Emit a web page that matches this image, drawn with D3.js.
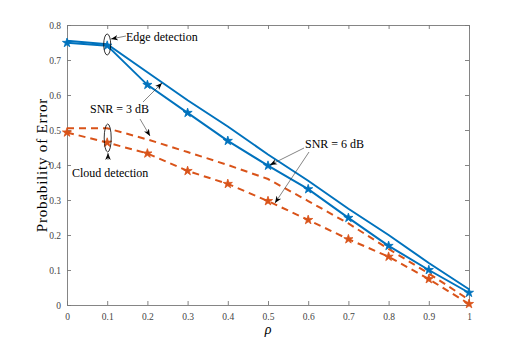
<!DOCTYPE html>
<html>
<head>
<meta charset="utf-8">
<script src="https://cdn.jsdelivr.net/npm/d3@7"></script>
<style>
  html, body { margin: 0; padding: 0; background: #fff; }
  svg { display: block; }
  svg text { font-family: "Liberation Serif", "DejaVu Serif", serif; }
</style>
</head>
<body>
<svg id="chart" width="518" height="343"></svg>
<script>
// Daten
const rho = [0, 0.1, 0.2, 0.3, 0.4, 0.5, 0.6, 0.7, 0.8, 0.9, 1];
const edge3dB = [0.755, 0.745, 0.665, 0.585, 0.51, 0.43, 0.355, 0.275, 0.2, 0.12, 0.045];
const edge6dB = [0.749, 0.741, 0.629, 0.549, 0.469, 0.398, 0.331, 0.249, 0.169, 0.1, 0.035];
const cloud3dB = [0.505, 0.505, 0.473, 0.437, 0.4, 0.36, 0.297, 0.233, 0.16, 0.09, 0.015];
const cloud6dB = [0.493, 0.464, 0.433, 0.383, 0.346, 0.297, 0.243, 0.188, 0.138, 0.074, 0.003];
const xTicks = [0, 0.1, 0.2, 0.3, 0.4, 0.5, 0.6, 0.7, 0.8, 0.9, 1];
const yTicks = [0, 0.1, 0.2, 0.3, 0.4, 0.5, 0.6, 0.7, 0.8];

const blue = "#0072BD";
const orange = "#D95319";
const axisColor = "#777";
const serif = "'Liberation Serif', 'DejaVu Serif', serif";

const svg = d3.select("#chart");
const x = d3.scaleLinear().domain([0, 1]).range([67, 469]);
const y = d3.scaleLinear().domain([0, 0.8]).range([305, 25]);

// Pfeilmarker
svg.append("defs").append("marker")
    .attr("id", "arrow")
    .attr("viewBox", "0 -5 10 10")
    .attr("refX", 10)
    .attr("refY", 0)
    .attr("markerWidth", 7)
    .attr("markerHeight", 7)
    .attr("markerUnits", "userSpaceOnUse")
    .attr("orient", "auto")
    .append("path")
    .attr("d", "M0,-4L10,0L0,4L3,0Z")
    .attr("fill", "#000");

// Achsen
const fmt = d => d === 0 ? "0" : d === 1 ? "1" : d3.format(".1f")(d);
const axB = svg.append("g").attr("transform", `translate(0,${y(0)})`)
    .call(d3.axisBottom(x).tickValues(xTicks).tickFormat(fmt).tickSizeInner(-4).tickSizeOuter(0).tickPadding(8));
const axL = svg.append("g").attr("transform", `translate(${x(0)},0)`)
    .call(d3.axisLeft(y).tickValues(yTicks).tickFormat(fmt).tickSizeInner(-4).tickSizeOuter(0).tickPadding(6));
const axT = svg.append("g").attr("transform", `translate(0,${y(0.8)})`)
    .call(d3.axisTop(x).tickValues(xTicks).tickFormat("").tickSizeInner(-4).tickSizeOuter(0));
const axR = svg.append("g").attr("transform", `translate(${x(1)},0)`)
    .call(d3.axisRight(y).tickValues(yTicks).tickFormat("").tickSizeInner(-4).tickSizeOuter(0));
[axB, axL, axT, axR].forEach(a => {
    a.selectAll("path, line").attr("stroke", axisColor).attr("stroke-width", 0.9);
    a.selectAll("text").attr("fill", "#444").attr("font-size", 9.5).attr("font-family", serif);
});

// Achsenbeschriftungen
svg.append("text")
    .attr("transform", `translate(47,${(y(0) + y(0.8)) / 2}) rotate(-90)`)
    .attr("text-anchor", "middle")
    .attr("font-family", serif)
    .attr("font-size", 15)
    .attr("letter-spacing", 0.8)
    .text("Probability of Error");
svg.append("text")
    .attr("x", x(0.5)).attr("y", 334)
    .attr("text-anchor", "middle")
    .attr("font-family", serif)
    .attr("font-size", 14)
    .attr("font-style", "italic")
    .text("ρ");

// Linien
const line = d3.line().x((d, i) => x(rho[i])).y(d => y(d));
const series = [
    { values: edge3dB, color: blue, dash: null, star: false },
    { values: edge6dB, color: blue, dash: null, star: true },
    { values: cloud3dB, color: orange, dash: "7,5", star: false },
    { values: cloud6dB, color: orange, dash: "7,5", star: true }
];
series.forEach(s => {
    svg.append("path")
        .datum(s.values)
        .attr("d", line)
        .attr("fill", "none")
        .attr("stroke", s.color)
        .attr("stroke-width", 2)
        .attr("stroke-dasharray", s.dash);
    if (s.star) {
        svg.append("g").selectAll("path")
            .data(s.values)
            .join("path")
            .attr("transform", (d, i) => `translate(${x(rho[i])},${y(d)})`)
            .attr("d", d3.symbol(d3.symbolStar, 26))
            .attr("fill", s.color)
            .attr("stroke", s.color)
            .attr("stroke-width", 0.8);
    }
});

// Annotationen
svg.append("ellipse").attr("cx", x(0.1)).attr("cy", 44.5).attr("rx", 3.5).attr("ry", 10.5)
    .attr("fill", "none").attr("stroke", "#000").attr("stroke-width", 0.8);
svg.append("ellipse").attr("cx", x(0.1) + 0.5).attr("cy", 138).attr("rx", 3.5).attr("ry", 14)
    .attr("fill", "none").attr("stroke", "#000").attr("stroke-width", 0.8);

const arrows = [
    [126, 36, 111, 39],
    [108, 155, 108, 153],
    [143, 102, 162, 83],
    [140, 119, 150, 136],
    [304, 148, 270, 165],
    [309, 152, 275, 203]
];
svg.append("g").selectAll("line")
    .data(arrows)
    .join("line")
    .attr("x1", d => d[0]).attr("y1", d => d[1])
    .attr("x2", d => d[2]).attr("y2", d => d[3])
    .attr("stroke", "#333").attr("stroke-width", 0.6)
    .attr("marker-end", "url(#arrow)");
svg.append("line").attr("x1", 108).attr("y1", 160).attr("x2", 108).attr("y2", 155)
    .attr("stroke", "#333").attr("stroke-width", 0.6);

const annot = svg.append("g").attr("font-family", serif).attr("font-size", 12);
annot.append("text").attr("x", 126).attr("y", 41).text("Edge detection");
annot.append("text").attr("x", 90).attr("y", 113).text("SNR = 3 dB");
annot.append("text").attr("x", 72).attr("y", 177).text("Cloud detection");
annot.append("text").attr("x", 305).attr("y", 148).text("SNR = 6 dB");
</script>
</body>
</html>
